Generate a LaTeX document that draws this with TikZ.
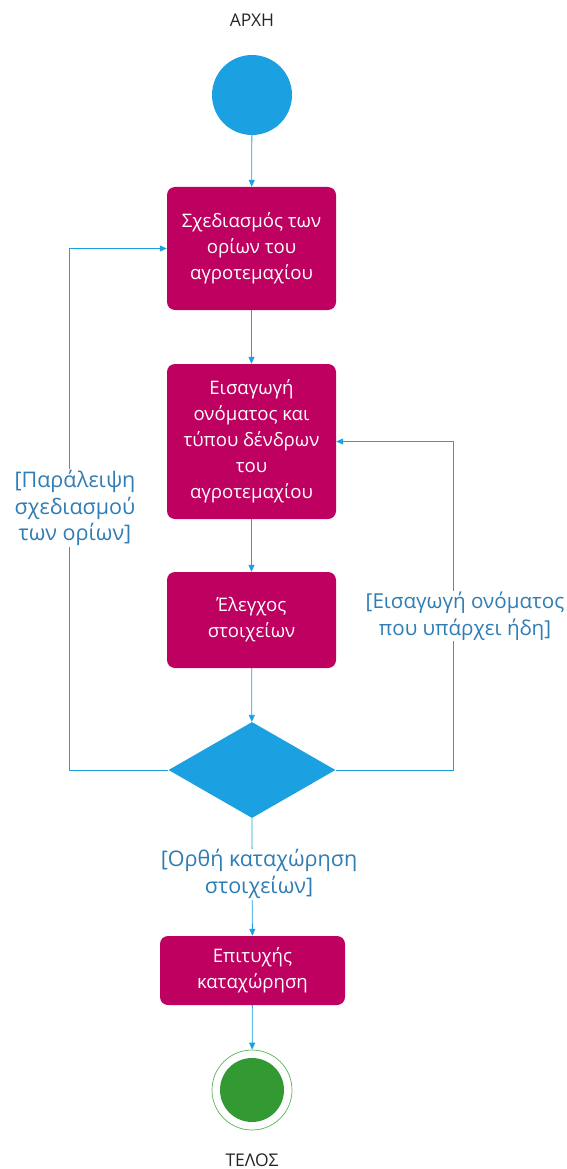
\documentclass[tikz,border=0pt]{standalone}
\usepackage{fontspec}
\setmainfont{Open Sans}
\usetikzlibrary{shapes.geometric,arrows.meta}
\definecolor{actfill}{HTML}{BE0060}
\definecolor{ctrlblue}{HTML}{1BA1E2}
\definecolor{guardblue}{HTML}{2F7DB5}
\definecolor{endgreen}{HTML}{339933}
\definecolor{ringgreen}{HTML}{5BB35B}
\tikzset{
  action/.style={draw=none, fill=actfill, rounded corners=8pt, text=white,
    minimum width=169pt, align=center, font=\fontsize{18.6}{26}\selectfont},
  flow/.style={draw=ctrlblue, line width=0.8pt, -{Triangle[length=7pt,width=6pt]}},
  guard/.style={fill=white, text=guardblue, align=center, inner sep=1pt,
    font=\fontsize{21.5}{26.5}\selectfont},
  caption/.style={text=black!85, font=\fontsize{17.5}{20}\selectfont}
}
\begin{document}
\begin{tikzpicture}[x=1pt,y=-1pt]
\useasboundingbox (0,0) rectangle (567,1169);

% start and end markers
\node[caption] (lblstart) at (252,20) {ΑΡΧΗ};
\node[circle, fill=ctrlblue, minimum size=80pt, inner sep=0pt] (start) at (252,95) {};

% activities
\node[action, minimum height=123pt] (b1) at (251.5,248.5) {Σχεδιασμός των\\ορίων του\\αγροτεμαχίου};
\node[action, minimum height=155pt] (b2) at (251.5,441.5) {Εισαγωγή\\ονόματος και\\τύπου δένδρων\\του\\αγροτεμαχίου};
\node[action, minimum height=96pt] (b3) at (251.5,620) {Έλεγχος\\στοιχείων};

% decision
\node[diamond, fill=ctrlblue, minimum width=167pt, minimum height=96pt, inner sep=0pt, aspect=1.74] (dia) at (252,770) {};

\node[action, minimum width=185pt, minimum height=69pt] (b4) at (252.5,970.5) {Επιτυχής\\καταχώρηση};

\node[circle, draw=ringgreen, line width=0.7pt, fill=white, minimum size=80pt, inner sep=0pt] (stop) at (252,1090) {};
\node[circle, fill=endgreen, minimum size=64pt, inner sep=0pt] (stopdot) at (stop.center) {};
\node[caption] (lblstop) at (252,1160) {ΤΕΛΟΣ};

% bends of the loops
\coordinate (lft) at (69,770);
\coordinate (rgt) at (453,770);

% control flow
\draw[flow] (start) -- (b1);
\draw[flow] (b1) -- (b2);
\draw[flow] (b2) -- (b3);
\draw[flow] (b3) -- (dia);
\draw[flow] (dia.west) -- (lft) |- (b1.west);
\draw[flow] (dia.east) -- (rgt) |- (b2.east);
\draw[flow] (dia.south) -- (b4);
\draw[flow] (b4) -- (stop);

% guards
\node[guard] (gskip) at (75,508) {[Παράλειψη\\σχεδιασμού\\των ορίων]};
\node[guard, font=\fontsize{20.6}{26.5}\selectfont] (gdup) at (465,616) {[Εισαγωγή ονόματος\\που υπάρχει ήδη]};
\node[guard] (gok) at (259,874) {[Ορθή καταχώρηση\\στοιχείων]};
\end{tikzpicture}
\end{document}
